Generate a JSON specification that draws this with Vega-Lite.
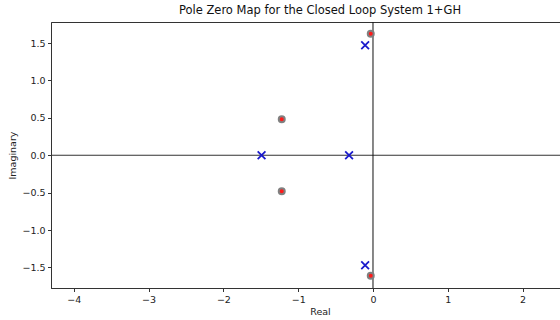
{
  "$schema": "https://vega.github.io/schema/vega-lite/v6.json",
  "width": 538,
  "height": 266,
  "padding": {"left": 7, "top": 5, "right": 0, "bottom": 0},
  "background": "white",
  "title": {"text": "Pole Zero Map for the Closed Loop System 1+GH", "font": "DejaVu Sans", "fontSize": 11.5, "fontWeight": "normal", "color": "#111", "offset": 5},
  "config": {
    "view": {"stroke": "#333", "strokeWidth": 1},
    "axis": {"grid": false, "labelFont": "DejaVu Sans", "labelFontSize": 9.5, "labelColor": "#222", "tickColor": "#333", "tickSize": 3.5, "labelPadding": 2.5, "domainColor": "#333", "domainWidth": 1, "titleFont": "DejaVu Sans", "titleFontSize": 9.5, "titleFontWeight": "normal", "titleColor": "#222"}
  },
  "datasets": {
    "pz": [
      {"re": -0.03, "im": 1.625, "kind": "zero"},
      {"re": -0.03, "im": -1.61, "kind": "zero"},
      {"re": -1.22, "im": 0.48, "kind": "zero"},
      {"re": -1.22, "im": -0.48, "kind": "zero"},
      {"re": -0.105, "im": 1.47, "kind": "pole"},
      {"re": -0.105, "im": -1.47, "kind": "pole"},
      {"re": -1.49, "im": 0.0, "kind": "pole"},
      {"re": -0.32, "im": 0.0, "kind": "pole"}
    ]
  },
  "encoding": {
    "x": {"field": "re", "type": "quantitative", "scale": {"domain": [-4.305, 2.888], "nice": false, "zero": false}, "axis": {"values": [-4, -3, -2, -1, 0, 1, 2], "format": "d", "title": "Real", "titlePadding": 3}},
    "y": {"field": "im", "type": "quantitative", "scale": {"domain": [-1.775, 1.782], "nice": false, "zero": false}, "axis": {"values": [-1.5, -1.0, -0.5, 0, 0.5, 1.0, 1.5], "format": ".1f", "title": "Imaginary", "titlePadding": 4}}
  },
  "layer": [
    {
      "data": {"values": [{"im": 0}]},
      "mark": {"type": "rule", "color": "#333", "strokeWidth": 1.2},
      "encoding": {"x": null}
    },
    {
      "data": {"values": [{"re": 0}]},
      "mark": {"type": "rule", "color": "#111", "strokeWidth": 1},
      "encoding": {"y": null}
    },
    {
      "data": {"name": "pz"},
      "transform": [{"filter": "datum.kind === 'zero'"}],
      "mark": {"type": "point", "shape": "circle", "filled": true, "fill": "#ff1a1a", "stroke": "#808080", "strokeWidth": 2, "size": 36, "opacity": 1}
    },
    {
      "data": {"name": "pz"},
      "transform": [{"filter": "datum.kind === 'pole'"}],
      "mark": {"type": "point", "shape": "M-1,-1L1,1M1,-1L-1,1", "filled": false, "stroke": "#1a1acc", "strokeWidth": 1.8, "size": 60, "opacity": 1}
    }
  ]
}
